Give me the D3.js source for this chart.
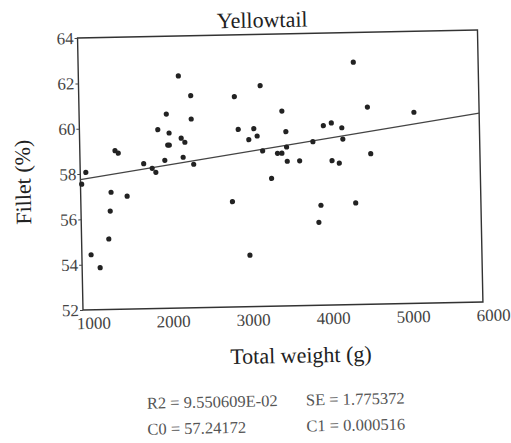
<!DOCTYPE html>
<html><head><meta charset="utf-8">
<script src="https://cdn.jsdelivr.net/npm/d3@7"></script>
<style>body{margin:0;background:#fff}svg{display:block}text{font-family:"Liberation Serif","Times New Roman",serif}</style>
</head><body><svg id="chart" width="511" height="443"></svg>
<script>
const title = "Yellowtail";
const xLabel = "Total weight (g)";
const yLabel = "Fillet (%)";
const xTicks = [1000, 2000, 3000, 4000, 5000, 6000];
const yTicks = [52, 54, 56, 58, 60, 62, 64];
const weight = [2250,3270,2400,2945,2090,2400,1980,2120,2985,3180,2270,2315,3220,3115,2100,2120,1440,1480,3285,3470,3525,2290,2060,1795,2420,1900,1945,1070,1015,1380,1580,1365,2895,3390,1340,1115,1225,3100,
                4440,3535,4605,5185,3580,4050,4150,4280,4290,3915,3585,3590,3745,4150,4240,4635,4000,4435,3970];
const fillet = [62.24,61.74,61.36,61.28,60.57,60.33,59.89,59.73,59.83,59.85,59.49,59.31,59.52,59.37,59.20,59.20,59.00,58.89,58.86,58.74,58.74,58.65,58.53,58.40,58.33,58.19,58.01,58.07,57.55,57.17,56.98,56.34,56.65,57.64,55.11,54.43,53.85,54.27,
                62.69,60.60,60.70,60.43,59.69,59.92,60.03,59.81,59.31,59.22,59.01,58.38,58.39,58.37,58.25,58.64,56.41,56.48,55.66];
const statNames = ["R2", "SE", "C0", "C1"];
const statValues = ["9.550609E-02", "1.775372", "57.24172", "0.000516"];
const C0 = 57.24172, C1 = 0.000516;

const svg = d3.select("#chart");
const L = 83, R = 483, T = 38, B = 310;
const x = d3.scaleLinear().domain([1000, 6000]).range([L, R]);
const y = d3.scaleLinear().domain([52, 64]).range([B, T]);

const g = svg.append("g").attr("transform", `rotate(-1.15, ${L}, ${B})`);

// frame
g.append("rect").attr("x", L).attr("y", T).attr("width", R - L).attr("height", B - T)
  .attr("fill", "none").attr("stroke", "#333").attr("stroke-width", 1.4);

// y axis
const ya = g.append("g").attr("transform", `translate(${L},0)`)
  .call(d3.axisLeft(y).tickValues(yTicks).tickSize(3).tickPadding(1).tickFormat(d3.format("d")));
ya.select(".domain").remove();
ya.selectAll("line").attr("stroke", "#444");
ya.selectAll("text").attr("font-size", 17).attr("fill", "#444")
  .attr("font-family", "Liberation Serif, serif");

// x axis
const xa = g.append("g").attr("transform", `translate(0,${B})`)
  .call(d3.axisBottom(x).tickValues(xTicks).tickSize(0).tickPadding(7).tickFormat(d3.format("d")));
xa.select(".domain").remove();
xa.selectAll("text").attr("font-size", 17).attr("fill", "#444").attr("dx", 10)
  .attr("font-family", "Liberation Serif, serif");

// regression line
const xs = x.domain();
g.append("line")
  .attr("x1", x(xs[0])).attr("y1", y(C0 + C1 * xs[0]))
  .attr("x2", x(xs[1])).attr("y2", y(C0 + C1 * xs[1]))
  .attr("stroke", "#444").attr("stroke-width", 1.3);

// points
g.append("g").selectAll("circle").data(weight).join("circle")
  .attr("cx", d => x(d)).attr("cy", (d, i) => y(fillet[i]))
  .attr("r", 2.6).attr("fill", "#222");

// title
g.append("text").attr("x", 268).attr("y", 31).attr("text-anchor", "middle")
  .attr("font-size", 22).attr("fill", "#222").text(title);

// axis labels
g.append("text").attr("x", 300).attr("y", 367).attr("text-anchor", "middle")
  .attr("font-size", 22).attr("fill", "#222").text(xLabel);
g.append("text").attr("transform", "translate(33,181) rotate(-90)").attr("text-anchor", "middle")
  .attr("font-size", 22).attr("fill", "#222").text(yLabel);

// stats
const statPos = [[145, 410], [304, 410], [145, 436], [304, 436]];
statNames.forEach((n, i) => {
  g.append("text").attr("x", statPos[i][0]).attr("y", statPos[i][1])
    .attr("font-size", 16.5).attr("fill", "#555").text(`${n} = ${statValues[i]}`);
});
</script></body></html>
